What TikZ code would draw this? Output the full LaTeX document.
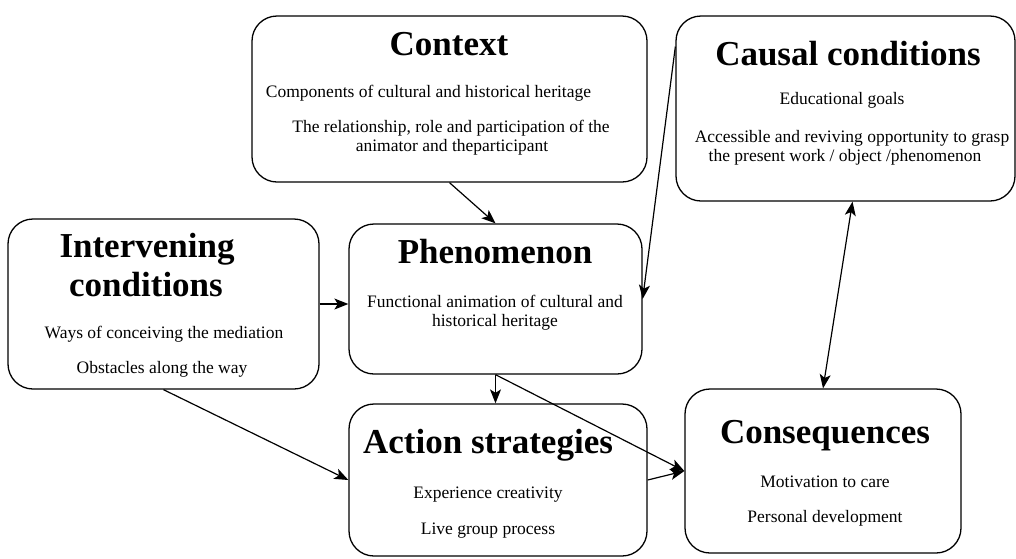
\documentclass[tikz,border=0pt]{standalone}
\usepackage{fontspec}
\setmainfont{Liberation Serif}
\usetikzlibrary{arrows.meta}

\begin{document}
\begin{tikzpicture}[x=1pt,y=-1pt,
        >={Stealth[length=14pt,width=11pt,inset=3.5pt]},
        box/.style={draw, line width=1.3pt, rounded corners=25pt, inner sep=0pt},
        head/.style={anchor=base, inner sep=0pt, font=\fontsize{35}{40}\selectfont\bfseries},
        txt/.style={anchor=base, inner sep=0pt, font=\fontsize{17.5}{19}\selectfont},
        arr/.style={->, line width=1.2pt}]
        \useasboundingbox (0,0) rectangle (1016,558);
        % boxes
        \node[box, minimum width=395pt, minimum height=166pt] (context) at (449.5,99) {};
        \node[box, minimum width=339pt, minimum height=185pt] (causal) at (845.5,108.5) {};
        \node[box, minimum width=311pt, minimum height=170pt] (intervening) at (163.5,304) {};
        \node[box, minimum width=293pt, minimum height=150pt] (phenomenon) at (495.5,299) {};
        \node[box, minimum width=298pt, minimum height=152pt] (action) at (498,480) {};
        \node[box, minimum width=276pt, minimum height=164pt] (consequences) at (823,471) {};
        % context
        \node[head] (contexthead) at (449,55) {Context};
        \node[txt] (contextA) at (428.5,97) {Components of cultural and historical heritage};
        \node[txt] (contextB) at (451,132) {The relationship, role and participation of the};
        \node[txt] (contextC) at (452,151) {animator and theparticipant};
        % causal conditions
        \node[head] (causalhead) at (848,65) {Causal conditions};
        \node[txt] (causalA) at (842,104) {Educational goals};
        \node[txt] (causalB) at (852,142) {Accessible and reviving opportunity to grasp};
        \node[txt] (causalC) at (845,161) {the present work / object /phenomenon};
        % intervening conditions
        \node[head] (interveninghead) at (147,257) {Intervening};
        \node[head] (interveninghead2) at (146,296) {conditions};
        \node[txt] (interveningA) at (164,338) {Ways of conceiving the mediation};
        \node[txt] (interveningB) at (162,373) {Obstacles along the way};
        % phenomenon
        \node[head] (phenomenonhead) at (495,263) {Phenomenon};
        \node[txt] (phenomenonA) at (495,307) {Functional animation of cultural and};
        \node[txt] (phenomenonB) at (495,326) {historical heritage};
        % action strategies
        \node[head] (actionhead) at (488,453) {Action strategies};
        \node[txt] (actionA) at (488,498) {Experience creativity};
        \node[txt] (actionB) at (488,534) {Live group process};
        % consequences
        \node[head] (consequenceshead) at (825,443) {Consequences};
        \node[txt] (consequencesA) at (825,487) {Motivation to care};
        \node[txt] (consequencesB) at (825,522) {Personal development};
        % arrows
        \draw[arr] (context.south) -- (phenomenon.north);
        \draw[arr] (causal.160) -- (phenomenon.east);
        \draw[arr] (intervening.east) -- (intervening.east -| phenomenon.west);
        \draw[arr] (intervening.south) -- (action.west);
        \draw[arr] (phenomenon.south) -- (phenomenon.south |- action.north);
        \draw[arr] (phenomenon.south) -- (consequences.west);
        \draw[arr] (action.east) -- (consequences.west);
        \draw[arr, <->] ([xshift=7pt]causal.south) -- (consequences.north);
\end{tikzpicture}
\end{document}
